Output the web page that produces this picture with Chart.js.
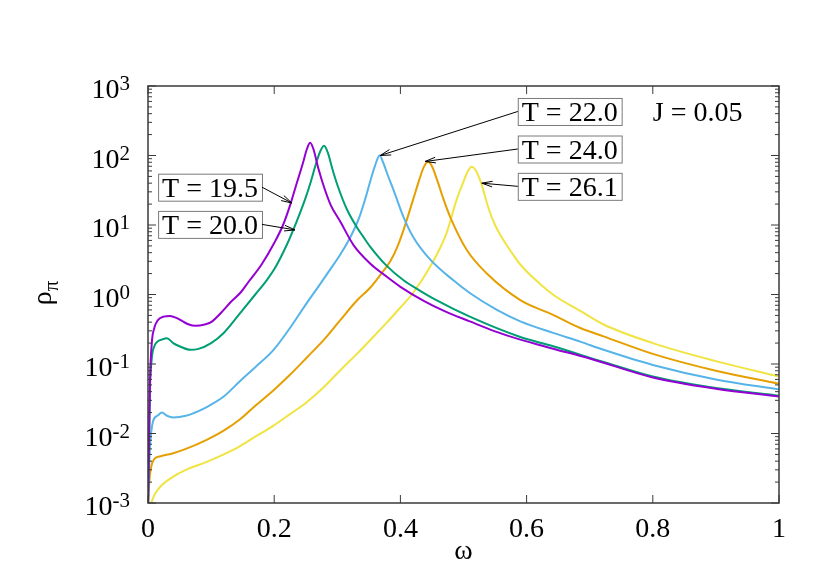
<!DOCTYPE html>
<html>
<head>
<meta charset="utf-8">
<script src="https://cdn.jsdelivr.net/npm/chart.js@4/dist/chart.umd.min.js"></script>
<style>
  body { margin: 0; background: #fff; }
</style>
</head>
<body>
<canvas id="myChart" width="830" height="581"></canvas>
<script>
// spectral density rho_pi(omega) for J = 0.05
let omega195 = [0, 0.003, 0.006, 0.01, 0.015, 0.025, 0.035, 0.045, 0.055, 0.065, 0.075, 0.09, 0.1, 0.12, 0.13, 0.146, 0.16, 0.18, 0.2, 0.214, 0.225, 0.235, 0.245, 0.252, 0.257, 0.262, 0.27, 0.28, 0.29, 0.304, 0.326, 0.352, 0.375, 0.4, 0.437, 0.47, 0.51, 0.55, 0.59, 0.642, 0.7, 0.8, 0.9, 1.0];
let rho195   = [0.0008, 0.05, 0.2, 0.33, 0.42, 0.48, 0.49, 0.46, 0.41, 0.37, 0.355, 0.37, 0.4, 0.6, 0.76, 1.05, 1.55, 2.7, 5.5, 10, 19, 38, 75, 125, 152, 125, 65, 33, 19, 11.5, 5.1, 2.8, 1.9, 1.29, 0.81, 0.575, 0.41, 0.295, 0.224, 0.166, 0.12, 0.064, 0.044, 0.034];

let omega200 = [0, 0.003, 0.006, 0.01, 0.015, 0.022, 0.03, 0.04, 0.05, 0.067, 0.08, 0.1, 0.12, 0.146, 0.17, 0.188, 0.2, 0.22, 0.236, 0.25, 0.258, 0.266, 0.273, 0.279, 0.285, 0.292, 0.3, 0.315, 0.331, 0.341, 0.352, 0.378, 0.405, 0.43, 0.457, 0.51, 0.59, 0.642, 0.722, 0.8, 0.9, 1.0];
let rho200   = [0.0008, 0.04, 0.12, 0.18, 0.21, 0.225, 0.235, 0.2, 0.18, 0.16, 0.165, 0.2, 0.28, 0.54, 1.0, 1.6, 2.3, 5.2, 11.5, 25, 42, 75, 115, 138, 110, 65, 38, 17, 9.3, 6.8, 4.9, 2.6, 1.6, 1.15, 0.83, 0.48, 0.245, 0.18, 0.107, 0.066, 0.045, 0.035];

let omega220 = [0, 0.003, 0.008, 0.015, 0.022, 0.03, 0.04, 0.06, 0.08, 0.093, 0.12, 0.146, 0.17, 0.199, 0.225, 0.251, 0.27, 0.288, 0.305, 0.32, 0.335, 0.345, 0.352, 0.36, 0.367, 0.373, 0.38, 0.389, 0.405, 0.42, 0.447, 0.484, 0.51, 0.553, 0.59, 0.642, 0.685, 0.722, 0.8, 0.9, 1.0];
let rho220   = [0.001, 0.006, 0.015, 0.018, 0.02, 0.018, 0.017, 0.018, 0.021, 0.024, 0.034, 0.057, 0.09, 0.16, 0.33, 0.74, 1.3, 2.24, 3.8, 6.5, 13, 25, 42, 72, 100, 78, 52, 32, 13, 6.8, 3.2, 1.6, 1.05, 0.6, 0.41, 0.28, 0.21, 0.16, 0.097, 0.06, 0.043];

let omega240 = [0, 0.002, 0.005, 0.01, 0.02, 0.04, 0.06, 0.093, 0.12, 0.146, 0.17, 0.199, 0.225, 0.251, 0.28, 0.304, 0.33, 0.352, 0.368, 0.384, 0.395, 0.405, 0.42, 0.43, 0.437, 0.444, 0.45, 0.458, 0.468, 0.479, 0.505, 0.537, 0.59, 0.642, 0.685, 0.722, 0.8, 0.9, 1.0];
let rho240   = [0.0008, 0.002, 0.0033, 0.0043, 0.0047, 0.0052, 0.006, 0.0081, 0.011, 0.016, 0.025, 0.042, 0.07, 0.122, 0.23, 0.42, 0.8, 1.25, 1.9, 3.0, 4.8, 8.5, 23, 45, 68, 81, 70, 45, 24, 13, 4.4, 2.0, 0.83, 0.51, 0.33, 0.25, 0.14, 0.08, 0.052];

let omega261 = [0, 0.005, 0.01, 0.019, 0.04, 0.06, 0.093, 0.12, 0.146, 0.17, 0.199, 0.225, 0.251, 0.278, 0.304, 0.331, 0.352, 0.378, 0.4, 0.42, 0.447, 0.473, 0.489, 0.5, 0.507, 0.513, 0.52, 0.528, 0.54, 0.55, 0.56, 0.579, 0.59, 0.62, 0.645, 0.685, 0.722, 0.8, 0.9, 1.0];
let rho261   = [0.0008, 0.001, 0.0013, 0.0017, 0.0024, 0.003, 0.0039, 0.005, 0.0066, 0.009, 0.013, 0.019, 0.028, 0.046, 0.08, 0.14, 0.22, 0.39, 0.65, 1.05, 2.5, 7.6, 23, 42, 60, 69, 60, 40, 17, 10, 6.8, 3.7, 2.7, 1.45, 0.95, 0.58, 0.37, 0.2, 0.11, 0.066];

let seriesLabels = ['T = 19.5', 'T = 20.0', 'T = 22.0', 'T = 24.0', 'T = 26.1'];
let seriesColors = ['#9400d3', '#009e73', '#56b4e9', '#e69f00', '#f0e442'];

let xTicks = [0, 0.2, 0.4, 0.6, 0.8, 1];
let xTickLabels = ['0', '0.2', '0.4', '0.6', '0.8', '1'];
let yTickExps = [-3, -2, -1, 0, 1, 2, 3];

// label boxes (left edge / centre, data units) and the point each arrow hits
let boxOmega = [0.016, 0.016, 0.586, 0.586, 0.586];
let boxRho   = [35, 10.2, 430, 124, 36];
let tipOmega = [0.228, 0.233, 0.368, 0.439, 0.529];
let tipRho   = [20.7, 8.5, 100, 82, 40];

const FONT = '"Liberation Serif", "Times New Roman", serif';

function pairs(xs, ys) {
  return xs.map((w, i) => ({ x: w, y: ys[i] }));
}

function line(ctx, x1, y1, x2, y2) {
  ctx.beginPath();
  ctx.moveTo(x1, y1);
  ctx.lineTo(x2, y2);
  ctx.stroke();
}

const decorations = {
  id: 'decorations',
  afterDraw(chart) {
    const ctx = chart.ctx;
    const a = chart.chartArea;
    const x = chart.scales.x, y = chart.scales.y;
    ctx.save();

    // frame and ticks
    ctx.strokeStyle = '#3a3a3a';
    ctx.lineWidth = 1.5;
    ctx.strokeRect(a.left, a.top, a.right - a.left, a.bottom - a.top);
    ctx.lineWidth = 1;
    ctx.fillStyle = '#000';
    ctx.font = '28px ' + FONT;
    ctx.textAlign = 'center';
    ctx.textBaseline = 'alphabetic';
    xTicks.forEach((v, i) => {
      const px = x.getPixelForValue(v);
      line(ctx, px, a.bottom, px, a.bottom - 8);
      line(ctx, px, a.top, px, a.top + 8);
      ctx.fillText(xTickLabels[i], px, a.bottom + 34);
    });

    yTickExps.forEach(e => {
      const py = y.getPixelForValue(Math.pow(10, e));
      line(ctx, a.left, py, a.left + 8, py);
      line(ctx, a.right, py, a.right - 8, py);
      if (e < 3) {
        for (let m = 2; m <= 9; m++) {
          const pm = y.getPixelForValue(m * Math.pow(10, e));
          line(ctx, a.left, pm, a.left + 4, pm);
          line(ctx, a.right, pm, a.right - 4, pm);
        }
      }
      const right = a.left - 18;
      ctx.textAlign = 'left';
      ctx.font = '21px ' + FONT;
      const ex = String(e);
      const ew = ctx.measureText(ex).width;
      ctx.fillText(ex, right - ew, py + 4);
      ctx.font = '28px ' + FONT;
      const bw = ctx.measureText('10').width;
      ctx.fillText('10', right - ew - bw, py + 12);
    });

    // axis titles
    ctx.textAlign = 'center';
    ctx.font = '28px ' + FONT;
    ctx.fillText('\u03c9', (a.left + a.right) / 2, a.bottom + 56);

    ctx.save();
    ctx.translate(50, 293);
    ctx.rotate(-Math.PI / 2);
    ctx.textAlign = 'left';
    ctx.font = '28px ' + FONT;
    const rw = ctx.measureText('\u03c1').width;
    ctx.font = '21px ' + FONT;
    const pw = ctx.measureText('\u03c0').width;
    const sx = -(rw + pw) / 2;
    ctx.font = '28px ' + FONT;
    ctx.fillText('\u03c1', sx, 1);
    ctx.font = '21px ' + FONT;
    ctx.fillText('\u03c0', sx + rw, 8);
    ctx.restore();

    // labelled arrows
    ctx.font = '28px ' + FONT;
    ctx.textAlign = 'left';
    seriesLabels.forEach((t, i) => {
      const bx = x.getPixelForValue(boxOmega[i]);
      const by = y.getPixelForValue(boxRho[i]);
      const w = ctx.measureText(t).width + 8;
      const h = 27;
      ctx.fillStyle = '#fff';
      ctx.fillRect(bx, by - h / 2, w, h);
      ctx.strokeStyle = '#7a7a7a';
      ctx.lineWidth = 1;
      ctx.strokeRect(bx + 0.5, by - h / 2 + 0.5, w, h);
      ctx.fillStyle = '#000';
      ctx.fillText(t, bx + 4, by + 9.5);

      const tx = x.getPixelForValue(tipOmega[i]);
      const ty = y.getPixelForValue(tipRho[i]);
      const sxp = tx > bx ? bx + w : bx;
      ctx.strokeStyle = '#000';
      line(ctx, sxp, by, tx, ty);
      const ang = Math.atan2(ty - by, tx - sxp);
      const L = 11, da = 0.26;
      line(ctx, tx, ty, tx - L * Math.cos(ang - da), ty - L * Math.sin(ang - da));
      line(ctx, tx, ty, tx - L * Math.cos(ang + da), ty - L * Math.sin(ang + da));
    });

    ctx.fillText('J = 0.05', x.getPixelForValue(0.8), y.getPixelForValue(430) + 9.5);
    ctx.restore();
  }
};

function createChart() {
  const ctx = document.getElementById('myChart').getContext('2d');
  const series = [[omega195, rho195], [omega200, rho200], [omega220, rho220], [omega240, rho240], [omega261, rho261]];
  new Chart(ctx, {
    type: 'line',
    data: {
      datasets: series.map((s, i) => ({
        label: seriesLabels[i],
        data: pairs(s[0], s[1]),
        borderColor: seriesColors[i],
        borderWidth: 2,
        pointRadius: 0,
        fill: false,
        cubicInterpolationMode: 'monotone'
      }))
    },
    options: {
      responsive: false,
      animation: false,
      devicePixelRatio: 1,
      layout: { padding: { left: 148, right: 51, top: 86, bottom: 78 } },
      plugins: { legend: { display: false }, tooltip: { enabled: false } },
      scales: {
        x: { type: 'linear', min: 0, max: 1, display: false },
        y: { type: 'logarithmic', min: 0.001, max: 1000, display: false }
      }
    },
    plugins: [decorations]
  });
}

window.onload = createChart;
</script>
</body>
</html>
